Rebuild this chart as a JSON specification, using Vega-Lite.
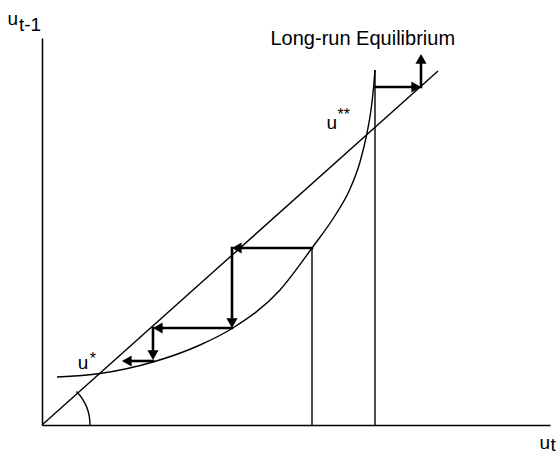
{
  "$schema": "https://vega.github.io/schema/vega-lite/v6.json",
  "description": "Cobweb diagram: u(t-1) against u(t), with the 45-degree line, the adjustment curve and the path to the long-run equilibrium",
  "width": 508,
  "height": 387,
  "autosize": {"type": "none"},
  "padding": {"left": 42, "top": 38, "right": 8, "bottom": 31},
  "background": "white",
  "view": {"stroke": null},
  "config": {
    "text": {"font": "Liberation Sans", "color": "#000"},
    "axis": {"domainColor": "#000", "domainWidth": 1.5, "ticks": false, "labels": false, "grid": false, "title": null}
  },
  "datasets": {
    "thin": [
      {"x": 0, "y": 0, "x2": 396, "y2": 354},
      {"x": 270, "y": 0, "x2": 270, "y2": 177},
      {"x": 333, "y": 0, "x2": 333, "y2": 355}
    ],
    "curve": [
      {"x": 15, "y": 48},
      {"x": 58, "y": 51.5},
      {"x": 111, "y": 63},
      {"x": 158, "y": 80},
      {"x": 190, "y": 96.5},
      {"x": 238, "y": 135},
      {"x": 270, "y": 177},
      {"x": 294, "y": 211},
      {"x": 308, "y": 236},
      {"x": 318, "y": 263},
      {"x": 325, "y": 292},
      {"x": 329, "y": 315},
      {"x": 331.5, "y": 337},
      {"x": 333, "y": 355}
    ],
    "shafts": [
      {"x": 270, "y": 177, "x2": 194.8, "y2": 177},
      {"x": 190, "y": 177, "x2": 190, "y2": 101.8},
      {"x": 190, "y": 97, "x2": 115.8, "y2": 97},
      {"x": 111, "y": 97, "x2": 111, "y2": 69.8},
      {"x": 111, "y": 64, "x2": 84.8, "y2": 64},
      {"x": 333, "y": 338, "x2": 374.2, "y2": 338},
      {"x": 379, "y": 338, "x2": 379, "y2": 366.2}
    ],
    "heads": [
      {"x": 194.8, "y": 177, "dir": "left"},
      {"x": 190, "y": 101.8, "dir": "down"},
      {"x": 115.8, "y": 97, "dir": "left"},
      {"x": 111, "y": 69.8, "dir": "down"},
      {"x": 84.8, "y": 64, "dir": "left"},
      {"x": 374.2, "y": 338, "dir": "right"},
      {"x": 379, "y": 366.2, "dir": "up"}
    ],
    "origin": [{"x": 0, "y": 0}],
    "labels": [
      {"t": "Long-run Equilibrium", "x": 228.5, "y": 380},
      {"t": "u", "x": -34.5, "y": 400},
      {"t": "t-1", "x": -23, "y": 394.5},
      {"t": "u", "x": 284.5, "y": 296.5},
      {"t": "u", "x": 35.7, "y": 55.7},
      {"t": "u", "x": 497.5, "y": -24},
      {"t": "t", "x": 508.5, "y": -26}
    ],
    "sups": [
      {"t": "**", "x": 295.5, "y": 305},
      {"t": "*", "x": 47.7, "y": 61}
    ]
  },
  "encoding": {
    "x": {"field": "x", "type": "quantitative", "scale": {"domain": [0, 508], "nice": false, "zero": false}},
    "y": {"field": "y", "type": "quantitative", "scale": {"domain": [0, 387], "nice": false, "zero": false}}
  },
  "layer": [
    {
      "data": {"name": "thin"},
      "mark": {"type": "rule", "color": "#000", "strokeWidth": 1.4},
      "encoding": {"x2": {"field": "x2"}, "y2": {"field": "y2"}}
    },
    {
      "data": {"name": "curve"},
      "mark": {"type": "line", "color": "#000", "strokeWidth": 1.4, "interpolate": "monotone"},
      "encoding": {}
    },
    {
      "data": {"name": "origin"},
      "mark": {"type": "arc", "filled": false, "stroke": "#000", "strokeWidth": 1.4, "theta": 0.8, "theta2": 1.5708, "radius": 48, "radius2": 48}
    },
    {
      "data": {"name": "shafts"},
      "mark": {"type": "rule", "color": "#000", "strokeWidth": 2.6, "strokeCap": "square"},
      "encoding": {"x2": {"field": "x2"}, "y2": {"field": "y2"}}
    },
    {
      "data": {"name": "heads"},
      "mark": {"type": "point", "filled": true, "opacity": 1, "color": "#000", "size": 125},
      "encoding": {
        "shape": {
          "field": "dir",
          "type": "nominal",
          "scale": {"domain": ["left", "down", "right", "up"], "range": ["triangle-left", "triangle-down", "triangle-right", "triangle-up"]},
          "legend": null
        }
      }
    },
    {
      "data": {"name": "labels"},
      "transform": [{"filter": "datum.t == 'Long-run Equilibrium'"}],
      "mark": {"type": "text", "align": "left", "baseline": "alphabetic", "fontSize": 20},
      "encoding": {"text": {"field": "t"}}
    },
    {
      "data": {"name": "labels"},
      "transform": [{"filter": "datum.t != 'Long-run Equilibrium'"}],
      "mark": {"type": "text", "align": "left", "baseline": "alphabetic", "fontSize": 19},
      "encoding": {"text": {"field": "t"}}
    },
    {
      "data": {"name": "sups"},
      "mark": {"type": "text", "align": "left", "baseline": "alphabetic", "fontSize": 16},
      "encoding": {"text": {"field": "t"}}
    }
  ]
}
